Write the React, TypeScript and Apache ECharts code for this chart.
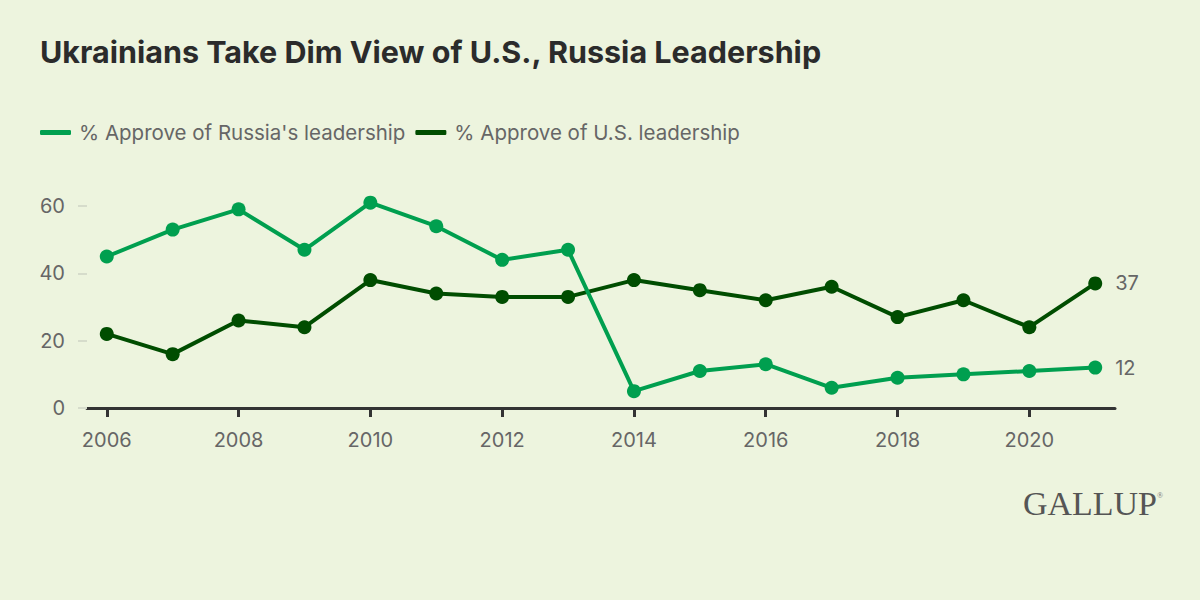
import React, { useEffect, useRef } from "react";
import * as echarts from "echarts";

const years = [2006, 2007, 2008, 2009, 2010, 2011, 2012, 2013, 2014, 2015, 2016, 2017, 2018, 2019, 2020, 2021];
const russiaApprove = [45, 53, 59, 47, 61, 54, 44, 47, 5, 11, 13, 6, 9, 10, 11, 12];
const usApprove = [22, 16, 26, 24, 38, 34, 33, 33, 38, 35, 32, 36, 27, 32, 24, 37];
const xTickYears = [2006, 2008, 2010, 2012, 2014, 2016, 2018, 2020];
const yTicks = [0, 20, 40, 60];
const seriesNames = ["% Approve of Russia's leadership", "% Approve of U.S. leadership"];
const titleText = "Ukrainians Take Dim View of U.S., Russia Leadership";

const BG = "#edf4de";
const LIGHT = "#009f4f";
const DARK = "#004d00";
const FONT = "Inter, Roboto, 'Noto Sans', sans-serif";

function buildData(values: number[]) {
  return values.map((v, i) => {
    const item: any = { value: [years[i], v] };
    if (i === values.length - 1) {
      item.label = {
        show: true,
        position: "right",
        distance: 13,
        formatter: "{@[1]}",
        color: "#666666",
        fontSize: 20,
        fontFamily: FONT,
      };
    }
    return item;
  });
}

export default function App() {
  const ref = useRef<HTMLDivElement>(null);
  useEffect(() => {
    if (!ref.current) return;
    const chart = echarts.init(ref.current, undefined, { renderer: "svg" });
    chart.setOption({
      animation: false,
      backgroundColor: BG,
      title: {
        text: titleText,
        left: 35,
        top: 31,
        textStyle: { fontFamily: FONT, fontWeight: "bold", fontSize: 30.5, color: "#2b2b2b" },
      },
      legend: {
        left: 35,
        top: 117,
        itemWidth: 31,
        itemHeight: 5,
        itemGap: 10,
        icon: "roundRect",
        textStyle: { fontFamily: FONT, fontSize: 20.5, color: "#666666", padding: [0, 0, 0, 3] },
        data: seriesNames.map((n, i) => ({
          name: n,
          itemStyle: { color: i === 0 ? LIGHT : DARK },
        })),
      },
      grid: { left: 87, right: 85, top: 206, bottom: 192, containLabel: false },
      xAxis: {
        type: "value",
        min: 2005.7,
        max: 2021.3,
        splitLine: { show: false },
        axisLine: { show: true, lineStyle: { color: "#333333", width: 3 } },
        axisTick: { show: true, customValues: xTickYears, length: 9, lineStyle: { color: "#333333", width: 3 } },
        axisLabel: {
          customValues: xTickYears,
          formatter: (v: number) => String(v),
          color: "#666666",
          fontSize: 20,
          fontFamily: FONT,
          margin: 22,
        },
      },
      yAxis: {
        type: "value",
        min: 0,
        max: 60,
        interval: 20,
        splitLine: { show: false },
        axisLine: { show: false },
        axisTick: { show: true, inside: false, length: 9, lineStyle: { color: "#d6dccb", width: 2 } },
        axisLabel: {
          color: "#666666",
          fontSize: 20,
          fontFamily: FONT,
          margin: 22,
        },
      },
      series: [
        {
          name: seriesNames[0],
          type: "line",
          data: buildData(russiaApprove),
          clip: false,
          color: LIGHT,
          symbol: "circle",
          symbolSize: 14,
          lineStyle: { width: 4, color: LIGHT },
          itemStyle: { color: LIGHT },
          z: 3,
        },
        {
          name: seriesNames[1],
          type: "line",
          data: buildData(usApprove),
          clip: false,
          color: DARK,
          symbol: "circle",
          symbolSize: 14,
          lineStyle: { width: 4, color: DARK },
          itemStyle: { color: DARK },
          z: 2,
        },
      ],
      graphic: [
        {
          type: "text",
          right: 43,
          top: 486,
          style: {
            text: "GALLUP",
            fill: "#555555",
            font: "34px 'Liberation Serif', 'DejaVu Serif', serif",
          },
        },
        {
          type: "text",
          right: 37,
          top: 491,
          style: {
            text: "®",
            fill: "#777777",
            font: "8px 'Liberation Serif', serif",
          },
        },
      ],
    });
    return () => chart.dispose();
  }, []);
  return <div ref={ref} style={{ width: 1200, height: 600, position: "absolute", left: 0, top: 0 }} />;
}
